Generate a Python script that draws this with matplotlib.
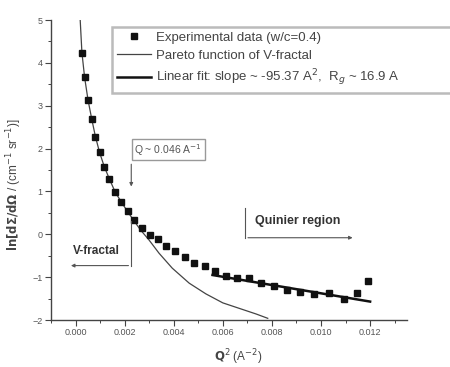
import numpy as np
import matplotlib
matplotlib.use('Agg')
import matplotlib.pyplot as plt
from matplotlib.ticker import MultipleLocator

plt.rcParams['font.family'] = ['Liberation Sans', 'DejaVu Sans']

q2_exp = [0.00026, 0.00037, 0.00051, 0.00066, 0.00081, 0.00098, 0.00117, 0.00138,
          0.00162, 0.00187, 0.00212, 0.00239, 0.00269, 0.00302, 0.00336, 0.00370,
          0.00404, 0.00444, 0.00483, 0.00526, 0.00568, 0.00613, 0.00659, 0.00706,
          0.00756, 0.00808, 0.00861, 0.00916, 0.00972, 0.01033, 0.01094, 0.01147,
          0.01190]
ln_exp = [4.24, 3.66, 3.13, 2.69, 2.28, 1.91, 1.58, 1.29,
          0.98, 0.75, 0.54, 0.33, 0.14, -0.02, -0.12, -0.27,
          -0.38, -0.54, -0.66, -0.74, -0.85, -0.97, -1.03, -1.03,
          -1.14, -1.20, -1.30, -1.35, -1.40, -1.36, -1.51, -1.36,
          -1.10]

# Pareto curve (V-fractal)
q2_par = [0.00019, 0.00026, 0.00037, 0.00051, 0.00066, 0.00081, 0.00098, 0.00117,
          0.00138, 0.00162, 0.00187, 0.00212, 0.00240, 0.00265, 0.00299, 0.00340,
          0.00394, 0.00463, 0.00531, 0.00600, 0.00668, 0.00736, 0.00783]
ln_par = [5.0, 4.24, 3.66, 3.13, 2.69, 2.28, 1.91, 1.58,
          1.29, 0.98, 0.75, 0.53, 0.30, 0.10, -0.13, -0.44,
          -0.79, -1.14, -1.39, -1.60, -1.73, -1.86, -1.96]

# linear (Guinier) fit
q2_fit = [0.00558, 0.01200]
ln_fit = [-0.95, -1.57]

xticks = [0.000, 0.002, 0.004, 0.006, 0.008, 0.010, 0.012]
yticks = [-2, -1, 0, 1, 2, 3, 4, 5]

fig = plt.figure(figsize=(4.5, 3.67), dpi=100)
ax = fig.add_axes([0.1133, 0.128, 0.791, 0.8175])

ax.plot(q2_par, ln_par, '-', color='#444444', lw=0.9, label='Pareto function of V-fractal')
ax.plot(q2_fit, ln_fit, '-', color='#111111', lw=1.8,
        label=r'Linear fit: slope ~ -95.37 A$^2$,  R$_g$ ~ 16.9 A')
ax.plot(q2_exp, ln_exp, 's', color='#111111', ms=3.8, lw=0,
        label='Experimental data (w/c=0.4)')

ax.set_xlim(-0.001, 0.0135)
ax.set_ylim(-2, 5)
ax.set_xticks(xticks)
ax.set_xticklabels([f'{t:.3f}' for t in xticks])
ax.set_yticks(yticks)
ax.xaxis.set_minor_locator(MultipleLocator(0.001))
ax.yaxis.set_minor_locator(MultipleLocator(0.5))
for s in ['top', 'right']:
    ax.spines[s].set_visible(False)
for s in ['left', 'bottom']:
    ax.spines[s].set_color('#444444')
    ax.spines[s].set_linewidth(1.0)
ax.tick_params(which='major', direction='out', length=4, width=0.8, colors='#444444',
               labelsize=6.5, labelcolor='#555555', pad=2)
ax.tick_params(which='minor', direction='out', length=2, width=0.7, colors='#444444')

ax.set_xlabel(r'$\mathbf{Q}^2$ (A$^{-2}$)', fontsize=8.5, color='#444444')
ax.set_ylabel(r'$\mathbf{ln[d\Sigma/d\Omega}$ / (cm$^{-1}$ sr$^{-1}$)]', fontsize=8.5,
              color='#444444')
ax.xaxis.set_label_coords(0.525, -0.09)
ax.yaxis.set_label_coords(-0.075, 0.45)

# annotations
ax.text(0.00377, 1.97, r'Q ~ 0.046 A$^{-1}$', fontsize=7.5, color='#555555', ha='center', va='center',
        bbox=dict(boxstyle='square,pad=0.25', fc='white', ec='#999999', lw=1.0))
ax.annotate('', xy=(0.00227, 1.05), xytext=(0.00227, 1.70),
            arrowprops=dict(arrowstyle='-|>', color='#555555', lw=0.8, mutation_scale=5))
ax.plot([0.00227, 0.00227], [0.30, -0.73], color='#555555', lw=0.8)
ax.annotate('', xy=(-0.00030, -0.73), xytext=(0.00227, -0.73),
            arrowprops=dict(arrowstyle='-|>', color='#555555', lw=0.8, mutation_scale=5))
ax.text(-0.00012, -0.40, 'V-fractal', fontsize=8.5, fontweight='bold', color='#333333',
        ha='left', va='center')

ax.plot([0.00691, 0.00691], [0.61, -0.08], color='#555555', lw=0.8)
ax.annotate('', xy=(0.01140, -0.08), xytext=(0.00691, -0.08),
            arrowprops=dict(arrowstyle='-|>', color='#555555', lw=0.8, mutation_scale=5))
ax.text(0.00731, 0.30, 'Quinier region', fontsize=9, fontweight='bold', color='#333333',
        ha='left', va='center')

handles, labels = ax.get_legend_handles_labels()
order = [2, 0, 1]
leg = ax.legend([handles[i] for i in order], [labels[i] for i in order],
                loc='upper left', bbox_to_anchor=(0.172, 0.5, 0.97, 0.477), mode='expand',
                fontsize=9.5, frameon=True, fancybox=False, handlelength=2.6,
                handletextpad=0.35, borderpad=0.35, labelspacing=0.45, borderaxespad=0)
leg.get_frame().set_edgecolor('#aaaaaa')
leg.get_frame().set_linewidth(1.8)
for t in leg.get_texts():
    t.set_color('#444444')

fig.savefig('out.png', dpi=100)
